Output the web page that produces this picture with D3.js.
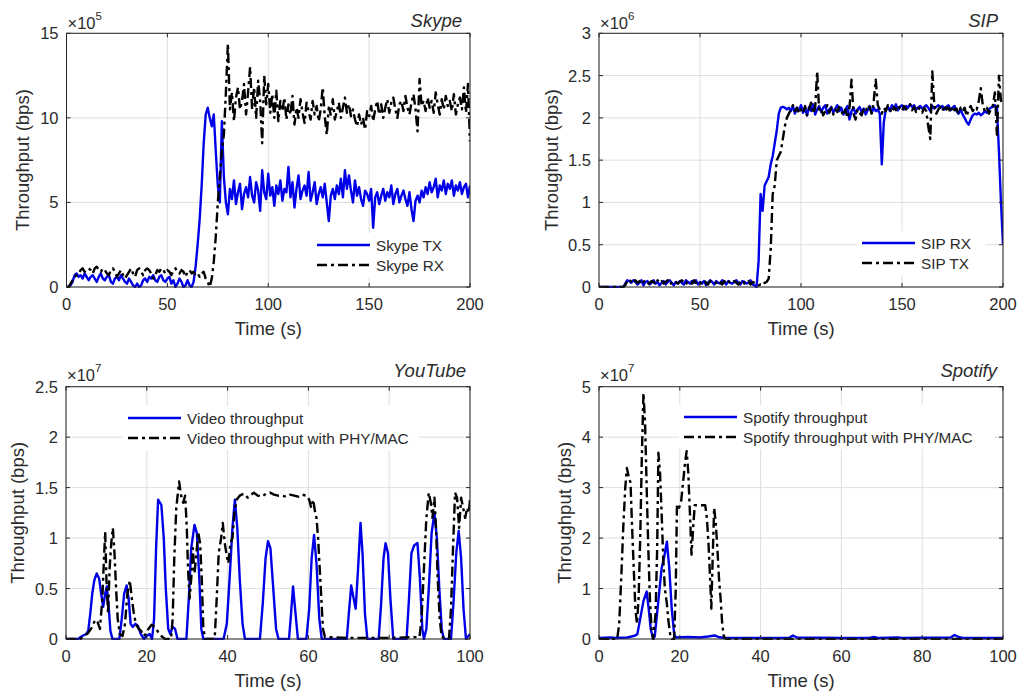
<!DOCTYPE html>
<html><head><meta charset="utf-8">
<script src="https://cdn.jsdelivr.net/npm/d3@7"></script>
<style>
body{margin:0;background:#fff}
text{font-family:"Liberation Sans",Arial,Helvetica,sans-serif;fill:#2b2b2b}
</style>
</head><body>
<svg id="c" width="1021" height="697"></svg>
<script>
// ---------------- DATA ----------------
// Top row: one sample per second, t = 0..200 s
const topTimes = d3.range(0, 201);
// Skype (x1e5 bps)
const skypeTX = [
0,0,0.1,0.3,0.7,0.8,0.6,0.7,0.5,0.8,
0.6,0.4,0.6,0.7,0.5,0.3,0.6,0.8,0.5,0.4,
0.6,0.7,0.3,0.2,0.5,0.6,0.4,0.7,0.5,0.3,
0.2,0.5,0.3,0.1,0,0.2,0,0.1,0.4,0.5,
0.3,0.6,0.5,0.7,0.4,0.3,0.6,0.7,0.4,0.3,
0.5,0.6,0.2,0.4,0,0.2,0.5,0.3,0,0.1,
0.4,0.1,0,0.3,1.2,2.5,4.0,6.0,8.5,10.2,
10.6,10.0,9.5,10.2,8.0,6.0,5.0,9.8,6.5,5.0,
4.3,5.8,5.2,6.3,4.9,5.6,6.1,4.6,5.5,5.9,
5.3,6.5,5.4,5.0,6.2,5.7,4.5,6.9,5.6,5.2,
6.7,5.4,5.9,4.8,6.0,5.5,6.3,5.1,5.8,5.6,
7.1,5.3,6.2,4.7,5.8,6.6,5.2,5.7,6.0,5.4,
6.8,5.1,5.6,6.2,4.9,5.5,5.9,5.3,6.1,5.0,
3.9,5.4,5.8,5.2,6.0,5.5,6.4,5.3,6.9,5.8,
6.6,5.7,5.0,6.3,5.4,5.9,5.2,4.8,5.7,5.5,
5.1,5.8,3.5,5.3,5.6,4.9,5.4,5.8,5.1,5.6,
5.3,6.0,4.9,5.5,5.8,5.0,5.4,5.7,5.2,4.8,
5.6,4.6,3.9,5.1,5.4,5.0,5.7,5.3,5.9,5.5,
6.2,5.6,5.9,6.4,5.3,6.0,5.7,6.3,5.5,6.1,
5.8,6.3,5.4,6.0,5.7,6.2,5.5,5.9,6.1,5.3,
6.0];
const skypeRX = [
0,0,0.2,0.4,0.6,0.7,0.8,1.0,1.1,0.9,
1.0,1.1,1.0,0.8,1.1,1.2,1.0,0.9,1.1,1.0,
0.8,0.7,1.0,1.1,0.9,0.6,0.8,1.0,0.7,0.5,
0.7,0.9,1.1,0.8,0.6,1.0,1.1,0.9,0.7,1.0,
1.1,1.0,0.8,0.5,0.7,1.0,0.9,1.1,1.0,0.8,
1.0,0.9,0.7,1.0,1.1,0.9,0.8,1.0,0.9,0.6,
0.9,1.0,0.8,0.9,0.7,0.8,0.6,0.8,0.9,0.5,
0.3,0,0.5,1.5,3.0,5.0,6.5,8.0,9.0,11.5,
14.4,10.5,11.5,9.8,11.2,11.8,10.5,11.0,12.0,10.2,
11.5,13.0,10.5,11.8,10.0,12.2,11.0,8.5,12.5,10.8,
12.0,10.3,11.4,10.0,11.6,9.8,11.0,10.4,11.2,9.9,
10.8,10.2,11.3,9.6,10.6,10.0,11.1,10.3,9.7,10.9,
10.4,9.9,11.0,10.2,10.7,9.8,10.5,11.8,10.1,9.0,
10.6,10.2,11.1,9.9,10.4,10.9,10.0,10.6,11.2,10.3,
10.8,10.1,10.5,9.9,9.5,10.2,9.6,10.0,9.3,10.4,
10.1,10.7,9.8,10.5,11.0,10.2,10.8,10.0,10.6,11.1,
10.3,10.9,11.2,10.5,10.0,10.8,11.0,10.4,11.3,10.6,
10.2,10.9,11.4,10.5,9.2,12.3,10.7,11.0,10.4,11.2,
10.6,11.0,10.3,11.5,10.8,10.2,11.1,10.5,11.3,10.7,
11.0,10.4,11.4,10.2,10.8,11.2,10.5,11.8,10.3,12.0,
8.6];
// SIP (x1e6 bps)
const sipRX = [
0,0,0,0,0,0,0,0,0,0,
0,0,0,0.04,0.08,0.07,0.05,0.08,0.06,0.03,
0.05,0.08,0.02,0.06,0.07,0.03,0.05,0.08,0.04,0.06,
0.02,0.05,0.07,0.03,0.06,0.08,0.05,0.02,0.06,0.04,
0.07,0.05,0.03,0.08,0.06,0.04,0.07,0.05,0.08,0.03,
0.06,0.04,0.07,0.02,0.05,0.08,0.06,0.03,0.07,0.05,
0.04,0.08,0.06,0.03,0.07,0.05,0.04,0.06,0.08,0.05,
0.03,0.07,0.06,0.04,0.05,0.08,0.03,0.02,0.0,0.3,
1.1,0.9,1.2,1.25,1.3,1.45,1.55,1.7,1.85,2.05,
2.12,2.13,2.12,2.1,2.12,2.08,2.14,2.05,2.12,2.09,
2.15,2.06,2.11,2.03,2.13,2.08,2.16,2.04,2.1,2.14,
2.07,2.12,2.15,2.05,2.1,2.13,2.06,2.11,2.15,2.08,
2.12,2.04,2.1,2.14,1.98,2.08,2.12,2.05,2.1,2.13,
2.07,2.11,2.04,2.09,2.14,2.06,2.12,2.08,2.1,2.05,
1.45,1.95,2.1,2.13,2.08,2.15,2.11,2.16,2.09,2.13,
2.15,2.1,2.14,2.12,2.16,2.13,2.15,2.1,2.12,2.14,
2.11,2.13,2.15,2.12,2.08,2.14,2.11,2.13,2.15,2.12,
2.14,2.1,2.13,2.15,2.09,2.12,2.14,2.08,2.05,2.1,
2.04,2.0,1.95,1.92,1.98,2.03,2.05,2.04,2.06,2.03,
2.05,2.08,2.06,2.1,2.12,2.13,2.15,2.12,1.6,1.0,
0.5];
const sipTX = [
0,0,0,0,0,0,0,0,0,0,
0,0,0,0.02,0.07,0.09,0.06,0.04,0.08,0.05,
0.07,0.03,0.06,0.08,0.05,0.04,0.07,0.06,0.03,0.08,
0.05,0.07,0.04,0.06,0.08,0.03,0.05,0.07,0.06,0.04,
0.06,0.08,0.05,0.03,0.07,0.06,0.04,0.08,0.05,0.07,
0.04,0.06,0.08,0.05,0.03,0.07,0.06,0.04,0.05,0.08,
0.06,0.03,0.07,0.05,0.08,0.04,0.06,0.07,0.05,0.03,
0.06,0.08,0.04,0.05,0.07,0.03,0.06,0.05,0.04,0.02,
0.03,0.02,0.05,0.06,0.1,0.45,1.1,1.2,1.5,1.55,
1.6,1.75,1.9,2.0,2.05,2.1,2.15,2.08,2.12,2.05,
2.1,2.06,2.14,2.03,2.1,2.18,2.05,2.12,2.55,2.08,
2.1,2.03,2.08,2.15,2.06,2.12,2.04,2.1,2.07,2.13,
2.08,2.03,2.1,2.0,2.12,2.45,2.05,1.98,2.1,2.06,
2.03,2.1,2.07,2.15,2.12,2.05,2.2,2.45,2.15,2.1,
2.05,2.12,2.08,2.15,2.1,2.06,2.13,2.09,2.15,2.11,
2.08,2.14,2.1,2.12,2.16,2.09,2.13,2.07,2.12,2.1,
2.06,2.12,2.08,1.9,1.75,2.55,2.15,2.05,2.1,2.13,
2.08,2.15,2.1,2.12,2.06,2.14,2.09,2.11,2.05,2.12,
2.08,2.12,2.02,2.1,2.14,2.08,2.12,2.1,2.2,2.35,
2.15,2.08,2.12,2.05,2.1,2.15,2.3,1.8,2.5,2.2,
2.25];
// YouTube (x1e7 bps), breakpoints
const ytVideoT = [0,3,4,5,5.5,6,6.5,7,7.6,8.2,8.7,9.2,9.7,10.1,10.5,11,11.5,13.2,13.8,14.4,15,15.5,16,16.5,17.2,17.8,18.5,19.3,20,20.7,21.3,21.8,22.3,22.8,23.6,24.2,24.7,25.3,25.8,26.4,27,27.6,29.8,30.4,31,31.8,32.4,33,33.5,34,39,39.8,40.5,41.2,41.8,42.4,43,43.7,44.3,48,48.7,49.4,50,50.6,51.3,52,52.6,55.2,55.7,56.2,56.7,57.4,59.5,60.2,60.8,61.4,62,62.7,63.3,69.5,70,70.6,71.2,71.7,72.3,72.9,73.4,74,74.6,77.4,78,78.6,79.1,79.7,80.3,81,84.3,84.9,85.5,86.2,87,87.6,88.2,88.6,89.2,89.8,90.5,91.2,91.8,92.4,93,93.5,95.3,95.9,96.6,97.2,97.8,98.4,99,99.6,100];
const ytVideoV = [0,0,0.03,0.05,0.08,0.25,0.45,0.58,0.65,0.6,0.45,0.32,0.45,0.52,0.35,0.08,0,0,0.2,0.45,0.53,0.4,0.15,0.12,0.15,0.13,0.05,0,0.03,0.05,0,0.2,0.9,1.38,1.33,1.0,0.5,0.1,0.05,0.12,0.1,0,0,0.4,0.9,1.13,1.05,0.6,0.1,0,0,0.15,0.6,1.1,1.38,1.1,0.6,0.15,0,0,0.35,0.8,0.97,0.9,0.5,0.1,0,0,0.25,0.52,0.3,0,0,0.3,0.8,1.03,0.75,0.2,0,0,0.25,0.53,0.4,0.3,0.7,1.15,0.85,0.25,0,0,0.35,0.8,0.95,0.85,0.4,0,0,0.4,0.85,0.93,0.95,0.6,0.1,0,0.1,0.5,1.05,1.25,1.0,0.5,0.1,0,0,0.35,0.85,1.07,0.8,0.3,0,0.03,0.05];
const ytPhyT = [0,3.5,4.5,5.5,6.5,7.2,7.8,8.4,9,9.4,9.7,10,10.4,10.8,11.2,11.6,12,12.4,12.8,13.3,14,14.6,15.2,15.8,16.3,16.8,17.3,18,18.6,19.2,19.8,20.4,21.2,22,22.8,23.6,24.5,26,26.4,26.8,27.3,28,28.5,29,29.5,29.9,30.2,30.6,31,31.4,31.8,32.3,32.7,33.2,33.6,34,34.5,36.8,37.3,37.8,38.4,38.8,39.3,39.8,40.2,40.7,41.2,41.7,42.2,43,44,45,45.8,46.5,47.5,48.5,49.5,50.5,51.5,52.5,53.5,54.5,55.5,56.5,57.5,58.5,59.5,60.2,60.7,61.2,61.6,62,62.4,62.8,63.2,63.6,64.1,70,80,87.5,88,88.6,89.2,89.8,90.3,90.7,91.2,91.6,92,92.5,93,94.8,95.3,95.8,96.3,96.8,97.3,97.8,98.3,98.8,99.3,99.7,100];
const ytPhyV = [0,0,0.03,0.06,0.12,0.19,0.17,0.1,0.4,0.8,1.06,0.6,0.25,0.7,0.95,1.1,0.85,0.5,0.2,0.05,0.03,0.15,0.45,0.58,0.4,0.25,0.15,0.1,0.08,0.03,0.05,0.1,0.14,0.12,0.07,0.03,0,0,0.2,0.8,1.3,1.56,1.42,1.35,1.42,1.1,0.7,0.4,0.6,0.9,0.65,0.85,1.06,0.95,0.6,0.1,0,0,0.4,0.85,1.0,1.15,0.95,0.82,0.75,0.95,1.0,1.25,1.38,1.42,1.44,1.4,1.43,1.45,1.42,1.41,1.44,1.45,1.43,1.42,1.42,1.41,1.43,1.42,1.41,1.43,1.42,1.38,1.3,1.38,1.27,1.2,1.0,0.7,0.4,0.1,0.02,0.01,0.01,0.02,0.2,0.7,1.2,1.45,1.35,1.2,1.4,1.1,0.6,0.2,0.02,0,0.3,0.9,1.45,1.4,1.1,1.4,1.3,1.2,1.3,1.25,1.38];
// Spotify (x1e7 bps), breakpoints
const spVideoT = [0,3,4,7,8,9,9.5,10.2,11,11.8,12.3,12.8,13.4,13.8,14.5,15.5,16.2,16.8,17.4,18,18.6,19,22,25,27,28.6,29.5,31,40,47,48,49,60,67,68,69,74,75,87,88,89,90,100];
const spVideoV = [0.02,0.03,0.02,0.03,0.05,0.07,0.1,0.4,0.75,0.94,0.6,0.2,0,0.05,0.6,1.4,1.65,1.93,1.4,0.6,0.1,0.03,0.04,0.03,0.05,0.07,0.04,0.02,0.02,0.02,0.07,0.03,0.02,0.02,0.04,0.02,0.03,0.02,0.03,0.08,0.04,0.02,0.02];
const spPhyT = [0,2.5,3,3.5,4.5,5,5.5,6,6.5,6.9,7.4,7.8,8.2,8.6,9,9.4,9.8,10.2,10.6,11,11.4,11.8,12.2,12.6,13,13.4,14,14.4,14.7,15.1,15.5,15.9,16.3,16.8,17.2,17.6,18,18.6,19,19.3,19.8,20.3,20.8,21.3,21.7,22.1,22.5,22.9,23.3,23.7,24.5,25.5,26.3,26.7,27.1,27.5,27.8,28.1,28.5,28.9,29.3,29.7,30.1,30.5,30.9,31.5,100];
const spPhyV = [0,0,0.03,0,0,0.3,1.2,2.2,3.0,3.39,3.2,3.1,2.2,1.4,0.6,0.3,0.8,2.0,3.6,4.87,4.3,3.0,1.8,0.8,0.2,0,0.5,1.8,3.69,3.3,2.5,1.6,1.0,0.7,0.35,0.1,0,0,1.0,2.66,2.6,2.7,3.1,3.5,3.72,3.3,2.5,1.67,2.2,2.65,2.65,2.65,2.65,2.4,1.9,1.2,0.6,1.5,2.6,2.3,1.8,1.2,0.8,0.3,0.05,0,0];

// Ticks and labels
const ticksSkypeX = [0,50,100,150,200], ticksSkypeY = [0,5,10,15];
const ticksSipX = [0,50,100,150,200], ticksSipY = [0,0.5,1,1.5,2,2.5,3];
const ticksYtX = [0,20,40,60,80,100], ticksYtY = [0,0.5,1,1.5,2,2.5];
const ticksSpX = [0,20,40,60,80,100], ticksSpY = [0,1,2,3,4,5];
const titles = ["Skype","SIP","YouTube","Spotify"];
const exponents = ["5","6","7","7"];
const legendSkype = ["Skype TX","Skype RX"];
const legendSip = ["SIP RX","SIP TX"];
const legendYt = ["Video throughput","Video throughput with PHY/MAC"];
const legendSp = ["Spotify throughput","Spotify throughput with PHY/MAC"];

// ---------------- LAYOUT ----------------
const BLUE = "#0000e8", BLACK = "#000";
const DASH = "10,4,3,4";
const FT = 16.5, FL = 18.5, FLEG = 15.3;
const panels = [
  {px:[66.5,470], py:[287,33.3], xd:[0,200], yd:[0,15], xt:ticksSkypeX, yt:ticksSkypeY, title:titles[0], exp:exponents[0],
   s:[{t:topTimes,v:skypeTX,c:BLUE},{t:topTimes,v:skypeRX,c:BLACK}], leg:legendSkype, lx:312, ly:245, lw:150,
   ylabX:23, titleY:27, titleDx:8, expY:29},
  {px:[599,1003], py:[287,33.3], xd:[0,200], yd:[0,3], xt:ticksSipX, yt:ticksSipY, title:titles[1], exp:exponents[1],
   s:[{t:topTimes,v:sipRX,c:BLUE},{t:topTimes,v:sipTX,c:BLACK}], leg:legendSip, lx:857, ly:243, lw:128,
   ylabX:552, titleY:27, titleDx:5, expY:29},
  {px:[66,470], py:[639,386.7], xd:[0,100], yd:[0,2.5], xt:ticksYtX, yt:ticksYtY, title:titles[2], exp:exponents[2],
   s:[{t:ytVideoT,v:ytVideoV,c:BLUE},{t:ytPhyT,v:ytPhyV,c:BLACK}], leg:legendYt, lx:123, ly:418, lw:295,
   ylabX:18, titleY:377, titleDx:4, expY:381},
  {px:[599,1003], py:[639,386.7], xd:[0,100], yd:[0,5], xt:ticksSpX, yt:ticksSpY, title:titles[3], exp:exponents[3],
   s:[{t:spVideoT,v:spVideoV,c:BLUE},{t:spPhyT,v:spPhyV,c:BLACK}], leg:legendSp, lx:679, ly:417, lw:315,
   ylabX:565, titleY:377, titleDx:6, expY:381}
];

const svg = d3.select("#c");
svg.append("rect").attr("width",1021).attr("height",697).attr("fill","#fff");

panels.forEach(p => {
  const x = d3.scaleLinear().domain(p.xd).range(p.px);
  const y = d3.scaleLinear().domain(p.yd).range(p.py);
  const g = svg.append("g");
  const [x0,x1] = p.px, [y0,y1] = p.py; // y0 bottom, y1 top

  // grid
  g.append("g").selectAll("line").data(p.xt).join("line")
    .attr("x1",d=>x(d)).attr("x2",d=>x(d)).attr("y1",y0).attr("y2",y1)
    .attr("stroke","#dedede").attr("stroke-width",1);
  g.append("g").selectAll("line").data(p.yt).join("line")
    .attr("y1",d=>y(d)).attr("y2",d=>y(d)).attr("x1",x0).attr("x2",x1)
    .attr("stroke","#dedede").attr("stroke-width",1);

  // lines
  const clipId = "clip" + p.title;
  svg.append("clipPath").attr("id",clipId).append("rect")
    .attr("x",x0).attr("y",y1-2).attr("width",x1-x0).attr("height",y0-y1+3);
  const lg = g.append("g").attr("clip-path",`url(#${clipId})`);
  p.s.forEach(s => {
    const pts = s.t.map((t,i)=>[t,s.v[i]]);
    lg.append("path").datum(pts)
      .attr("d", d3.line().x(d=>x(d[0])).y(d=>y(d[1])))
      .attr("fill","none").attr("stroke",s.c).attr("stroke-width",2.4)
      .attr("stroke-linejoin","round")
      .attr("stroke-dasharray", s.c===BLACK ? DASH : null);
  });

  // legend
  const lgd = g.append("g");
  lgd.append("rect").attr("x",p.lx).attr("y",p.ly-12).attr("width",p.lw).attr("height",44).attr("fill","#fff");
  p.leg.forEach((txt,i)=>{
    const yy = p.ly + i*20;
    lgd.append("line").attr("x1",p.lx+5).attr("x2",p.lx+58).attr("y1",yy).attr("y2",yy)
      .attr("stroke", i===0?BLUE:BLACK).attr("stroke-width",2.4)
      .attr("stroke-dasharray", i===0?null:DASH);
    lgd.append("text").attr("x",p.lx+64).attr("y",yy+5.5).attr("font-size",FLEG).text(txt);
  });

  // box
  g.append("rect").attr("x",x0).attr("y",y1).attr("width",x1-x0).attr("height",y0-y1)
    .attr("fill","none").attr("stroke","#262626").attr("stroke-width",1);
  // ticks (inward, all four sides)
  const tl = 4;
  g.append("g").selectAll("line").data(p.xt).join("line")
    .attr("x1",d=>x(d)).attr("x2",d=>x(d)).attr("y1",y0).attr("y2",y0-tl).attr("stroke","#262626");
  g.append("g").selectAll("line").data(p.xt).join("line")
    .attr("x1",d=>x(d)).attr("x2",d=>x(d)).attr("y1",y1).attr("y2",y1+tl).attr("stroke","#262626");
  g.append("g").selectAll("line").data(p.yt).join("line")
    .attr("y1",d=>y(d)).attr("y2",d=>y(d)).attr("x1",x0).attr("x2",x0+tl).attr("stroke","#262626");
  g.append("g").selectAll("line").data(p.yt).join("line")
    .attr("y1",d=>y(d)).attr("y2",d=>y(d)).attr("x1",x1).attr("x2",x1-tl).attr("stroke","#262626");

  // tick labels
  g.append("g").selectAll("text").data(p.xt).join("text")
    .attr("x",d=>x(d)).attr("y",y0+23).attr("text-anchor","middle").attr("font-size",FT).text(d=>String(d));
  g.append("g").selectAll("text").data(p.yt).join("text")
    .attr("x",x0-8).attr("y",d=>y(d)+6).attr("text-anchor","end").attr("font-size",FT).text(d=>String(d));

  // axis labels
  g.append("text").attr("x",(x0+x1)/2).attr("y",y0+48).attr("text-anchor","middle").attr("font-size",FL).text("Time (s)");
  g.append("text").attr("transform",`translate(${p.ylabX},${(y0+y1)/2}) rotate(-90)`)
    .attr("text-anchor","middle").attr("dy","0.35em").attr("font-size",FL).text("Throughput (bps)");

  // exponent
  const ex = g.append("text").attr("x",x0+1).attr("y",p.expY).attr("font-size",FT);
  ex.append("tspan").text("×10");
  ex.append("tspan").attr("dy",-9).attr("font-size",11.5).text(p.exp);

  // title
  g.append("text").attr("x",x1-p.titleDx).attr("y",p.titleY).attr("text-anchor","end")
    .attr("font-size",FL).attr("font-style","italic").text(p.title);
});
</script>
</body></html>
